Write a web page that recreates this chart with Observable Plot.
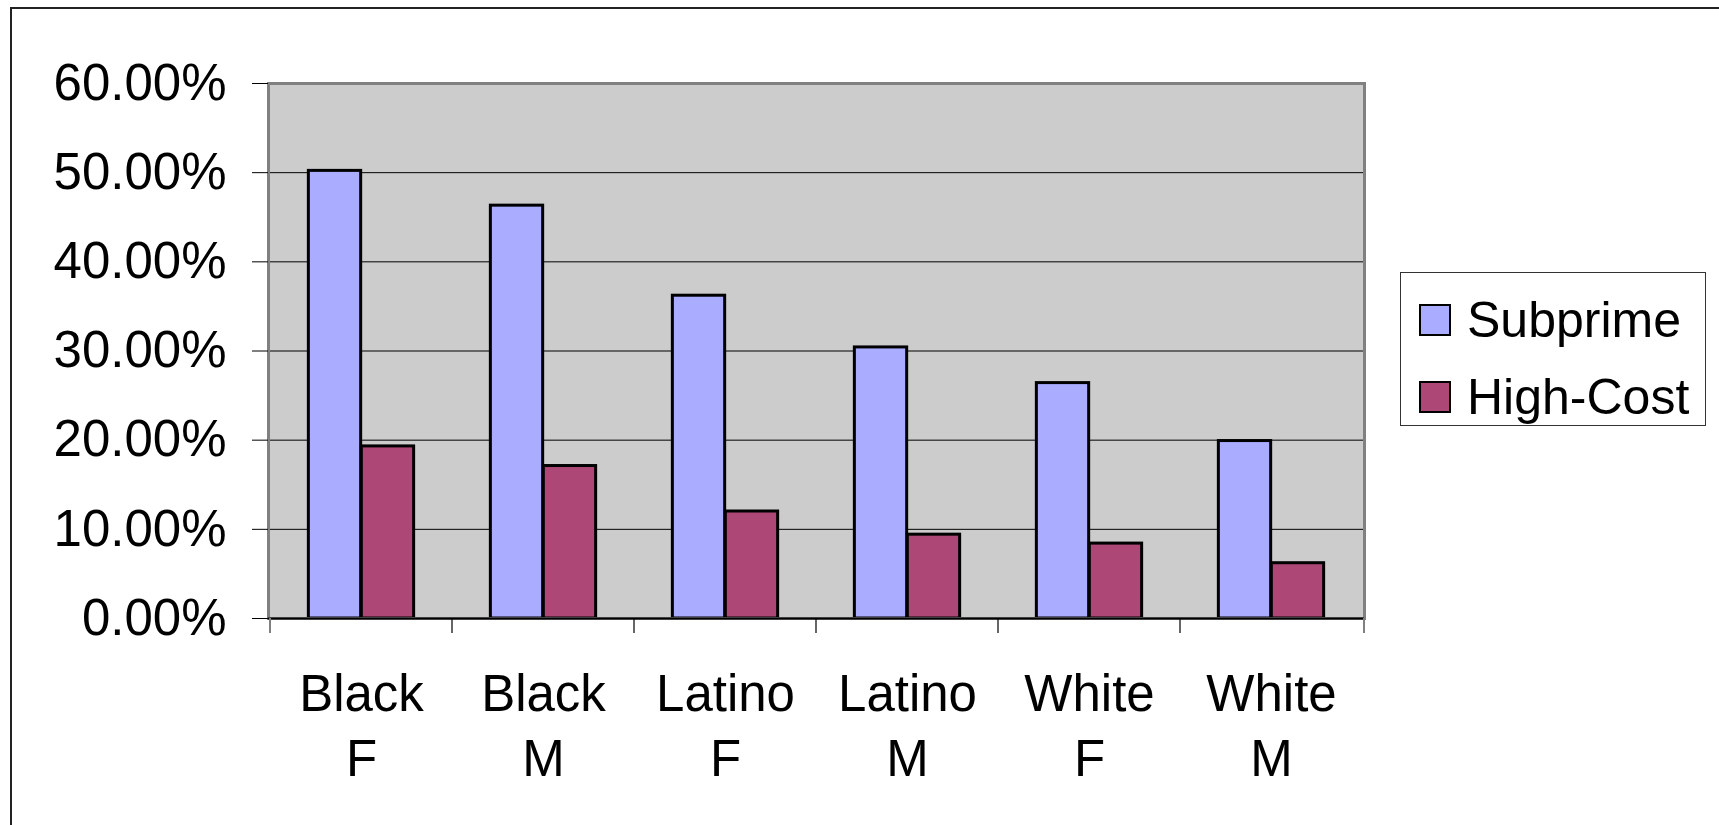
<!DOCTYPE html>
<html>
<head>
<meta charset="utf-8">
<script src="https://cdn.jsdelivr.net/npm/d3@7"></script>
<script src="https://cdn.jsdelivr.net/npm/@observablehq/plot@0.6"></script>
<style>
  html, body { margin: 0; padding: 0; background: #fff; }
  #wrap { position: relative; width: 1719px; height: 825px; overflow: hidden; font-family: "Liberation Sans", Arial, sans-serif; }
  #outer { position: absolute; left: 10px; top: 7px; right: -10px; bottom: -10px; border-left: 2px solid #222; border-top: 2px solid #222; pointer-events: none; }
  #legend { position: absolute; left: 1400px; top: 272px; width: 306px; height: 154px; border: 1px solid #333; box-sizing: border-box; background: #fff; }
  .item { position: absolute; left: 18px; display: flex; align-items: center; font-size: 50px; line-height: 1; color: #000; }
  .sw { width: 28px; height: 28px; border: 2px solid #000; margin-right: 16px; }
</style>
</head>
<body>
<div id="wrap">
  <div id="chart"></div>
  <div id="outer"></div>
  <div id="legend"></div>
</div>
<script>
// ---- data ----
const categories = ["Black F", "Black M", "Latino F", "Latino M", "White F", "White M"];
const seriesNames = ["Subprime", "High-Cost"];
const subprime = [0.502, 0.463, 0.362, 0.304, 0.264, 0.199];
const highCost = [0.193, 0.171, 0.120, 0.094, 0.084, 0.062];
const yTicks = [0, 0.1, 0.2, 0.3, 0.4, 0.5, 0.6];
const seriesColors = ["#aaadff", "#ad4876"];

const table = categories.flatMap((c, i) => [
  {category: c, series: seriesNames[0], value: subprime[i]},
  {category: c, series: seriesNames[1], value: highCost[i]}
]);

// ---- layout ----
const W = 1719, H = 825;
const mL = 268, mR = 355, mT = 83, mB = 207;
const bw = (W - mL - mR) / categories.length;
const outerGap = 0.21 * bw;   // space between category edge and bar group
const half = 0.5 * bw;

const boundaryTicks = (index, scales, values, dims) => {
  const x = scales.x, y = scales.y;
  const xs = categories.map(c => x(c)).concat([dims.width - dims.marginRight]);
  const y0 = y(0);
  const g = d3.create("svg:g");
  g.selectAll("line").data(xs).join("line")
    .attr("x1", d => d).attr("x2", d => d)
    .attr("y1", y0).attr("y2", y0 + 15)
    .attr("stroke", (d, i) => (i === 0 || i === xs.length - 1) ? "#808080" : "#000")
    .attr("stroke-width", (d, i) => (i === 0 || i === xs.length - 1) ? 2 : 1.2);
  return g.node();
};

const chart = Plot.plot({
  width: W,
  height: H,
  marginLeft: mL,
  marginRight: mR,
  marginTop: mT,
  marginBottom: mB,
  style: {fontFamily: "'Liberation Sans', Arial, sans-serif", color: "#000", background: "transparent", overflow: "visible"},
  x: {domain: categories, padding: 0, axis: null, label: null},
  y: {domain: [0, 0.6], axis: null, label: null},
  color: {domain: seriesNames, range: seriesColors},
  marks: [
    Plot.frame({fill: "#cccccc", stroke: null}),
    Plot.gridY(yTicks, {stroke: "#000", strokeOpacity: 1, strokeWidth: 1}),
    Plot.barY(table.filter(d => d.series === seriesNames[0]), {
      x: "category", y: "value", fill: "series", stroke: "#000", strokeWidth: 3,
      insetLeft: outerGap, insetRight: half
    }),
    Plot.barY(table.filter(d => d.series === seriesNames[1]), {
      x: "category", y: "value", fill: "series", stroke: "#000", strokeWidth: 3,
      insetLeft: half, insetRight: outerGap
    }),
    Plot.frame({stroke: "#808080", strokeWidth: 3, fill: "none"}),
    Plot.ruleY([0], {stroke: "#000", strokeWidth: 2}),
    Plot.axisY(yTicks, {
      label: null,
      tickSize: 16, tickPadding: 26, fontSize: 51, stroke: "#000", strokeWidth: 1,
      tickFormat: d => (d * 100).toFixed(2) + "%", fill: "#000"
    }),
    Plot.axisX({
      label: null,
      tickSize: 0, tickPadding: 46, fontSize: 51, lineHeight: 1.275, fill: "#000",
      tickFormat: d => d.replace(" ", "\n")
    }),
    boundaryTicks
  ]
});
document.getElementById("chart").appendChild(chart);

// ---- legend (colors from the plot's color scale) ----
const color = chart.scale("color");
const legend = document.getElementById("legend");
color.domain.forEach((name, i) => {
  const item = document.createElement("div");
  item.className = "item";
  item.style.top = (i === 0 ? 22 : 99) + "px";
  const sw = document.createElement("div");
  sw.className = "sw";
  sw.style.background = color.range[i];
  const t = document.createElement("span");
  t.textContent = name;
  item.appendChild(sw);
  item.appendChild(t);
  legend.appendChild(item);
});
</script>
</body>
</html>
